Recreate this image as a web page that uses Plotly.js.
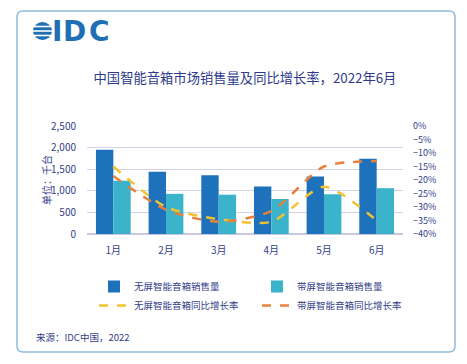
<!DOCTYPE html>
<html>
<head>
<meta charset="utf-8">
<script src="https://cdn.plot.ly/plotly-3.0.1.min.js"></script>
<style>html,body{margin:0;padding:0;background:#fff;}#chart{width:467px;height:364px;}</style>
</head>
<body>
<div id="chart"></div>
<script>
const months = ["1月","2月","3月","4月","5月","6月"];
const noScreenSales = [1950, 1440, 1360, 1100, 1330, 1740];
const screenSales = [1230, 930, 910, 810, 920, 1060];
const noScreenYoY = [-15, -30, -34.5, -35.5, -22.5, -35];
const screenYoY = [-18.5, -31, -35.5, -31.5, -15, -13];
const seriesNames = ["无屏智能音箱销售量","带屏智能音箱销售量","无屏智能音箱同比增长率","带屏智能音箱同比增长率"];

const FONT = '"Noto Sans CJK SC", "Noto Sans", sans-serif';
const NAVY = '#34408a';
const L = 87, R = 403, T = 126, B = 234;
const px = x => (x - L) / (R - L);
const py = y => (B - y) / (B - T);

const traces = [
  {type:'bar', x: months, y: noScreenSales, name: seriesNames[0], marker:{color:'#1d72bb'}, yaxis:'y', legend:'legend'},
  {type:'bar', x: months, y: screenSales, name: seriesNames[1], marker:{color:'#3ab3cb'}, yaxis:'y', legend:'legend2'},
  {type:'scatter', mode:'lines', x: months, y: noScreenYoY, name: seriesNames[2], yaxis:'y2', legend:'legend',
   line:{color:'#f2c230', width:2.5, dash:'dash', shape:'spline', smoothing:0.7}},
  {type:'scatter', mode:'lines', x: months, y: screenYoY, name: seriesNames[3], yaxis:'y2', legend:'legend2',
   line:{color:'#e8813a', width:2.5, dash:'dash', shape:'spline', smoothing:0.7}}
];

// rounded frame path in paper coords
function roundRect(x0, y0, x1, y1, r) {
  const P = (x, y) => px(x) + ',' + py(y);
  return 'M' + P(x0 + r, y0) + ' L' + P(x1 - r, y0) + ' Q' + P(x1, y0) + ' ' + P(x1, y0 + r) +
    ' L' + P(x1, y1 - r) + ' Q' + P(x1, y1) + ' ' + P(x1 - r, y1) +
    ' L' + P(x0 + r, y1) + ' Q' + P(x0, y1) + ' ' + P(x0, y1 - r) +
    ' L' + P(x0, y0 + r) + ' Q' + P(x0, y0) + ' ' + P(x0 + r, y0) + ' Z';
}

const shapes = [
  {type:'path', xref:'paper', yref:'paper', path: roundRect(17, 11, 455, 352, 6),
   line:{color:'#8fbbdc', width:1.5}, fillcolor:'rgba(0,0,0,0)', layer:'below'},
  {type:'circle', xref:'paper', yref:'paper', x0:px(33), x1:px(52), y0:py(22), y1:py(40),
   fillcolor:'#1f6fb5', line:{width:0}},
  {type:'line', xref:'paper', yref:'paper', x0:px(32), x1:px(53), y0:py(26.5), y1:py(26.5), line:{color:'#fff', width:1.6}},
  {type:'line', xref:'paper', yref:'paper', x0:px(32), x1:px(53), y0:py(31), y1:py(31), line:{color:'#fff', width:1.6}},
  {type:'line', xref:'paper', yref:'paper', x0:px(32), x1:px(53), y0:py(35.5), y1:py(35.5), line:{color:'#fff', width:1.6}}
];

const logoFont = {family:'"DejaVu Sans", sans-serif', size:28, color:'#1f6fb5', weight:'bold'};
const annotations = [
  {text:'<b>I</b>', xref:'paper', yref:'paper', x:px(57), y:py(31), xanchor:'center', yanchor:'middle', showarrow:false, font:logoFont},
  {text:'<b>D</b>', xref:'paper', yref:'paper', x:px(74), y:py(31), xanchor:'center', yanchor:'middle', showarrow:false, font:logoFont},
  {text:'<b>C</b>', xref:'paper', yref:'paper', x:px(99), y:py(31), xanchor:'center', yanchor:'middle', showarrow:false, font:logoFont},
  {text:'单位：千台', xref:'paper', yref:'paper', x:px(46), y:py(180), xanchor:'center', yanchor:'middle',
   textangle:-90, showarrow:false, font:{family:FONT, size:10, color:NAVY}},
  {text:'来源：IDC中国，2022', xref:'paper', yref:'paper', x:px(34), y:py(337), xanchor:'left', yanchor:'middle',
   showarrow:false, font:{family:FONT, size:9.5, color:NAVY}}
];

const legendBase = {orientation:'v', xanchor:'left', yanchor:'top', traceorder:'normal',
  font:{family:FONT, size:9.5, color:NAVY}, itemwidth:30, bgcolor:'rgba(0,0,0,0)', borderwidth:0};

const layout = {
  width: 467, height: 364,
  margin: {l: L, r: 467 - R, t: T, b: 364 - B, pad: 0, autoexpand: false},
  paper_bgcolor: '#fff', plot_bgcolor: '#fff',
  font: {family: FONT, size: 10, color: NAVY},
  title: {text: '中国智能音箱市场销售量及同比增长率，2022年6月', x: 0.5, xref: 'paper', xanchor:'center',
          y: 1 - 78/364, yanchor: 'middle', font: {family: FONT, size: 13.3, color: '#2d3a8c'}},
  barmode: 'group', bargap: 0.34, bargroupgap: 0,
  showlegend: true,
  legend: Object.assign({}, legendBase, {x: px(94), y: py(272)}),
  legend2: Object.assign({}, legendBase, {x: px(257), y: py(272)}),
  xaxis: {type:'category', showgrid:false, zeroline:false, showline:false, ticks:'',
          tickfont:{size:10, color:NAVY}, ticklabelstandoff: 9},
  yaxis: {range:[0, 2500], dtick:500, tickformat:',d', showgrid:true, gridcolor:'#d3d2e8', gridwidth:1,
          zeroline:true, zerolinecolor:'#c9c8e2', zerolinewidth:1.2, showline:false, ticks:'',
          tickfont:{size:10, color:NAVY}, ticklabelstandoff: 10},
  yaxis2: {overlaying:'y', side:'right', range:[-40, 0], dtick:5, ticksuffix:'%', showgrid:false,
           zeroline:false, showline:false, ticks:'', tickfont:{size:9, color:NAVY}, ticklabelstandoff: 9},
  shapes: shapes,
  annotations: annotations
};

Plotly.newPlot('chart', traces, layout, {displayModeBar:false, staticPlot:true});
</script>
</body>
</html>
